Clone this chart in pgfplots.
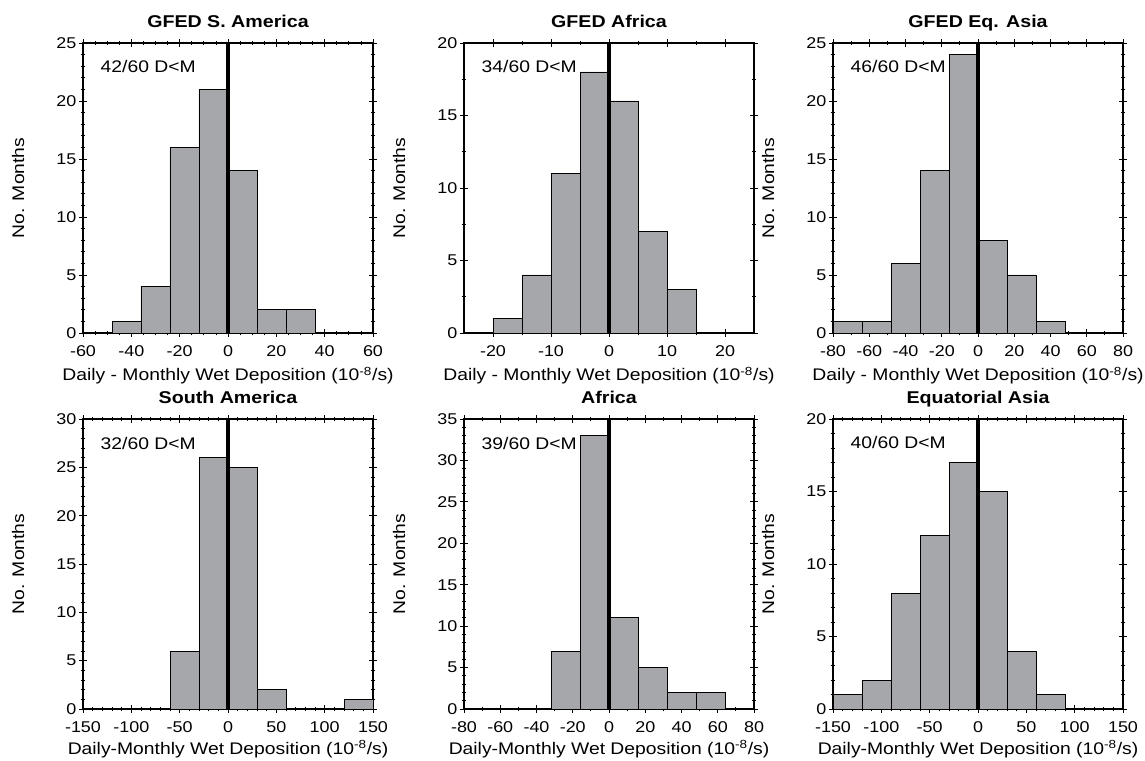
\documentclass[border=0pt]{standalone}
\usepackage{fontspec}
\setmainfont[FakeStretch=1.15]{Liberation Sans}
\usepackage{pgfplots}
\pgfplotsset{compat=1.18}
\definecolor{barfill}{RGB}{166,167,171}

\tikzset{note/.style={anchor=base west, font=\fontsize{12.6}{14}\selectfont, xshift=9.75pt, yshift=-22.5pt}}
\pgfplotsset{
  every axis title shift=0pt,
  hist/.style={
    scale only axis, width=217.5pt, height=217.5pt,
    axis line style={line width=1.1pt},
    tick align=center,
    major tick length=6pt, minor tick length=3.5pt,
    every tick/.append style={black, line width=0.6pt},
    ymin=0, clip=false,
    /pgf/number format/assume math mode=true,
    minor y tick num=4,
    tick label style={font=\fontsize{11.7}{13}\selectfont},
    xticklabel style={anchor=base, yshift=-14.6pt},
    yticklabel style={anchor=east, xshift=1.5pt},
    title style={font=\fontsize{12.8}{14}\selectfont\bfseries, at={(axis description cs:0.5,1.052)}, anchor=base, yshift=0pt},
    every axis y label/.style={at={(axis description cs:-0.224,0.5)}, rotate=90, anchor=center, font=\fontsize{12.6}{14}\selectfont},
    every axis x label/.style={at={(axis description cs:0.5,-0.165)}, anchor=base, font=\fontsize{12.6}{14}\selectfont},
    ylabel={No. Months},
  },
  bars/.style={ybar interval, fill=barfill, draw=black, line width=0.6pt},
  zline/.style={black, line width=2.6pt},
}

\begin{document}
\begin{tikzpicture}
\useasboundingbox (0,0) rectangle (858.75pt,570pt);

% Row 1, panel 1
\begin{axis}[hist, at={(62.25pt,320.25pt)}, anchor=south west,
  title={GFED S. America},
  xmin=-60, xmax=60, ymax=25, xtick={-60,-40,...,60}, ytick={0,5,...,25},
  minor x tick num=3,
  xlabel={Daily - Monthly Wet Deposition (10\textsuperscript{-8}/s)}]
\addplot[bars] coordinates {(-48,1) (-36,4) (-24,16) (-12,21) (0,14) (12,2) (24,2) (36,0)};
\addplot[zline] coordinates {(0,0) (0,25)};
\node[note] at (rel axis cs:0,1) {42/60 D<M};
\end{axis}

% Row 1, panel 2
\begin{axis}[hist, at={(348pt,320.25pt)}, anchor=south west,
  title={GFED Africa},
  xmin=-25, xmax=25, ymax=20, xtick={-20,-10,...,20}, ytick={0,5,...,20},
  minor x tick num=1, minor y tick num=1,
  xlabel={Daily - Monthly Wet Deposition (10\textsuperscript{-8}/s)}]
\addplot[bars] coordinates {(-20,1) (-15,4) (-10,11) (-5,18) (0,16) (5,7) (10,3) (15,0)};
\addplot[zline] coordinates {(0,0) (0,20)};
\node[note] at (rel axis cs:0,1) {34/60 D<M};
\end{axis}

% Row 1, panel 3
\begin{axis}[hist, at={(624.75pt,320.25pt)}, anchor=south west,
  title={GFED Eq. Asia},
  xmin=-80, xmax=80, ymax=25, xtick={-80,-60,...,80}, ytick={0,5,...,25},
  minor x tick num=1,
  xlabel={Daily - Monthly Wet Deposition (10\textsuperscript{-8}/s)}]
\addplot[bars] coordinates {(-80,1) (-64,1) (-48,6) (-32,14) (-16,24) (0,8) (16,5) (32,1) (48,0)};
\addplot[zline] coordinates {(0,0) (0,25)};
\node[note] at (rel axis cs:0,1) {46/60 D<M};
\end{axis}

% Row 2, panel 4
\begin{axis}[hist, at={(62.25pt,38.25pt)}, anchor=south west,
  title={South America},
  every axis x label/.append style={at={(axis description cs:0.5,-0.157)}},
  xmin=-150, xmax=150, ymax=30, xtick={-150,-100,...,150}, ytick={0,5,...,30},
  minor x tick num=4,
  xlabel={Daily-Monthly Wet Deposition (10\textsuperscript{-8}/s)}]
\addplot[bars] coordinates {(-60,6) (-30,26) (0,25) (30,2) (60,0)};
\addplot[bars] coordinates {(120,1) (150,0)};
\addplot[zline] coordinates {(0,0) (0,30)};
\node[note] at (rel axis cs:0,1) {32/60 D<M};
\end{axis}

% Row 2, panel 5
\begin{axis}[hist, at={(348pt,38.25pt)}, anchor=south west,
  title={Africa},
  every axis x label/.append style={at={(axis description cs:0.5,-0.157)}},
  xmin=-80, xmax=80, ymax=35, xtick={-80,-60,...,80}, ytick={0,5,...,35},
  minor x tick num=1,
  xlabel={Daily-Monthly Wet Deposition (10\textsuperscript{-8}/s)}]
\addplot[bars] coordinates {(-32,7) (-16,33) (0,11) (16,5) (32,2) (48,2) (64,0)};
\addplot[zline] coordinates {(0,0) (0,35)};
\node[note] at (rel axis cs:0,1) {39/60 D<M};
\end{axis}

% Row 2, panel 6
\begin{axis}[hist, at={(624.75pt,38.25pt)}, anchor=south west,
  title={Equatorial Asia},
  every axis x label/.append style={at={(axis description cs:0.5,-0.157)}},
  xmin=-150, xmax=150, ymax=20, xtick={-150,-100,...,150}, ytick={0,5,...,20},
  minor x tick num=4,
  xlabel={Daily-Monthly Wet Deposition (10\textsuperscript{-8}/s)}]
\addplot[bars] coordinates {(-150,1) (-120,2) (-90,8) (-60,12) (-30,17) (0,15) (30,4) (60,1) (90,0)};
\addplot[zline] coordinates {(0,0) (0,20)};
\node[note] at (rel axis cs:0,1) {40/60 D<M};
\end{axis}
\end{tikzpicture}
\end{document}
